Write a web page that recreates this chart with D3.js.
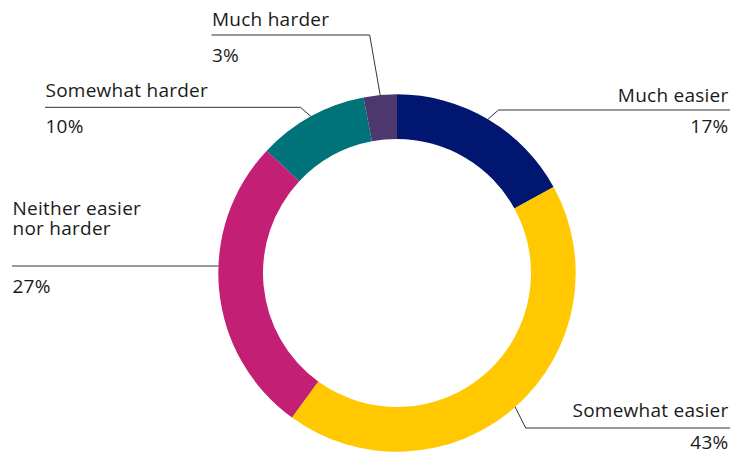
<!DOCTYPE html>
<html>
<head>
<meta charset="utf-8">
<script src="https://cdn.jsdelivr.net/npm/d3@7"></script>
<style>
  html, body { margin: 0; padding: 0; background: #fff; }
  svg { display: block; }
  text { font-family: "Open Sans", "Noto Sans", sans-serif; fill: #1a1a1a; letter-spacing: 0.25px; }
</style>
</head>
<body>
<svg id="chart" width="732" height="452"></svg>
<script>
// Survey answers, clockwise from 12 o'clock
const categories = ["Much easier", "Somewhat easier", "Neither easier nor harder", "Somewhat harder", "Much harder"];
const values = [17, 43, 27, 10, 3];
const nameLines = [["Much easier"], ["Somewhat easier"], ["Neither easier", "nor harder"], ["Somewhat harder"], ["Much harder"]];
const colors = ["#001670", "#ffc800", "#c21f75", "#00737a", "#4d386e"];

// Label placement: side, text x, leader y, name baseline, percent baseline
const labelLayout = [
  { side: "right", x: 728.5, lineY: 110, nameY: 101.5, pctY: 133, lineEnd: 730 },
  { side: "right", x: 728.5, lineY: 428, nameY: 416.5, pctY: 449, lineEnd: 730 },
  { side: "left",  x: 12.5, lineY: 266, nameY: 235, pctY: 292.5, lineEnd: 12, direct: true },
  { side: "left",  x: 45.5, lineY: 107.3, nameY: 96.7, pctY: 133.3, lineEnd: 45 },
  { side: "left",  x: 212, lineY: 35, nameY: 26, pctY: 61.7, lineEnd: 211.5 }
];

const width = 732, height = 452;
const cx = 397, cy = 273;
const outerR = 178.7, innerR = 134;
const fontSize = 19;
const lineGap = 20;

const svg = d3.select("#chart");
const g = svg.append("g").attr("transform", `translate(${cx},${cy})`);

const pie = d3.pie().sort(null).value(d => d.value);
const arcs = pie(categories.map((c, i) => ({ category: c, value: values[i], i })));
const arc = d3.arc().innerRadius(innerR).outerRadius(outerR);

g.selectAll("path.slice")
  .data(arcs)
  .join("path")
  .attr("class", "slice")
  .attr("d", arc)
  .attr("fill", d => colors[d.data.i]);

// Leader lines: from the ring at the slice's mid-angle, a short diagonal
// up/down to the label's line, then straight across to the text edge.
const lineGen = d3.line();
arcs.forEach(a => {
  const L = labelLayout[a.data.i];
  const mid = (a.startAngle + a.endAngle) / 2;
  let pts;
  if (L.direct) {
    const dy = L.lineY - cy;
    const dx = Math.sqrt(outerR * outerR - dy * dy);
    const sx = L.side === "left" ? cx - dx : cx + dx;
    pts = [[sx, L.lineY], [L.lineEnd, L.lineY]];
  } else {
    const sx = cx + outerR * Math.sin(mid);
    const sy = cy - outerR * Math.cos(mid);
    const ex = sx + (L.side === "left" ? -10.5 : 10.5);
    pts = [[sx, sy], [ex, L.lineY], [L.lineEnd, L.lineY]];
  }
  svg.append("path")
    .attr("d", lineGen(pts))
    .attr("fill", "none")
    .attr("stroke", "#333")
    .attr("stroke-width", 1);

  const anchor = L.side === "left" ? "start" : "end";
  const lines = nameLines[a.data.i];
  const name = svg.append("text")
    .attr("x", L.x)
    .attr("y", L.nameY - (lines.length - 1) * lineGap)
    .attr("text-anchor", anchor)
    .attr("font-size", fontSize);
  lines.forEach((t, k) => {
    name.append("tspan")
      .attr("x", L.x)
      .attr("dy", k === 0 ? 0 : lineGap)
      .text(t);
  });
  svg.append("text")
    .attr("x", L.x)
    .attr("y", L.pctY)
    .attr("text-anchor", anchor)
    .attr("font-size", fontSize)
    .text(`${a.data.value}%`);
});
</script>
</body>
</html>
